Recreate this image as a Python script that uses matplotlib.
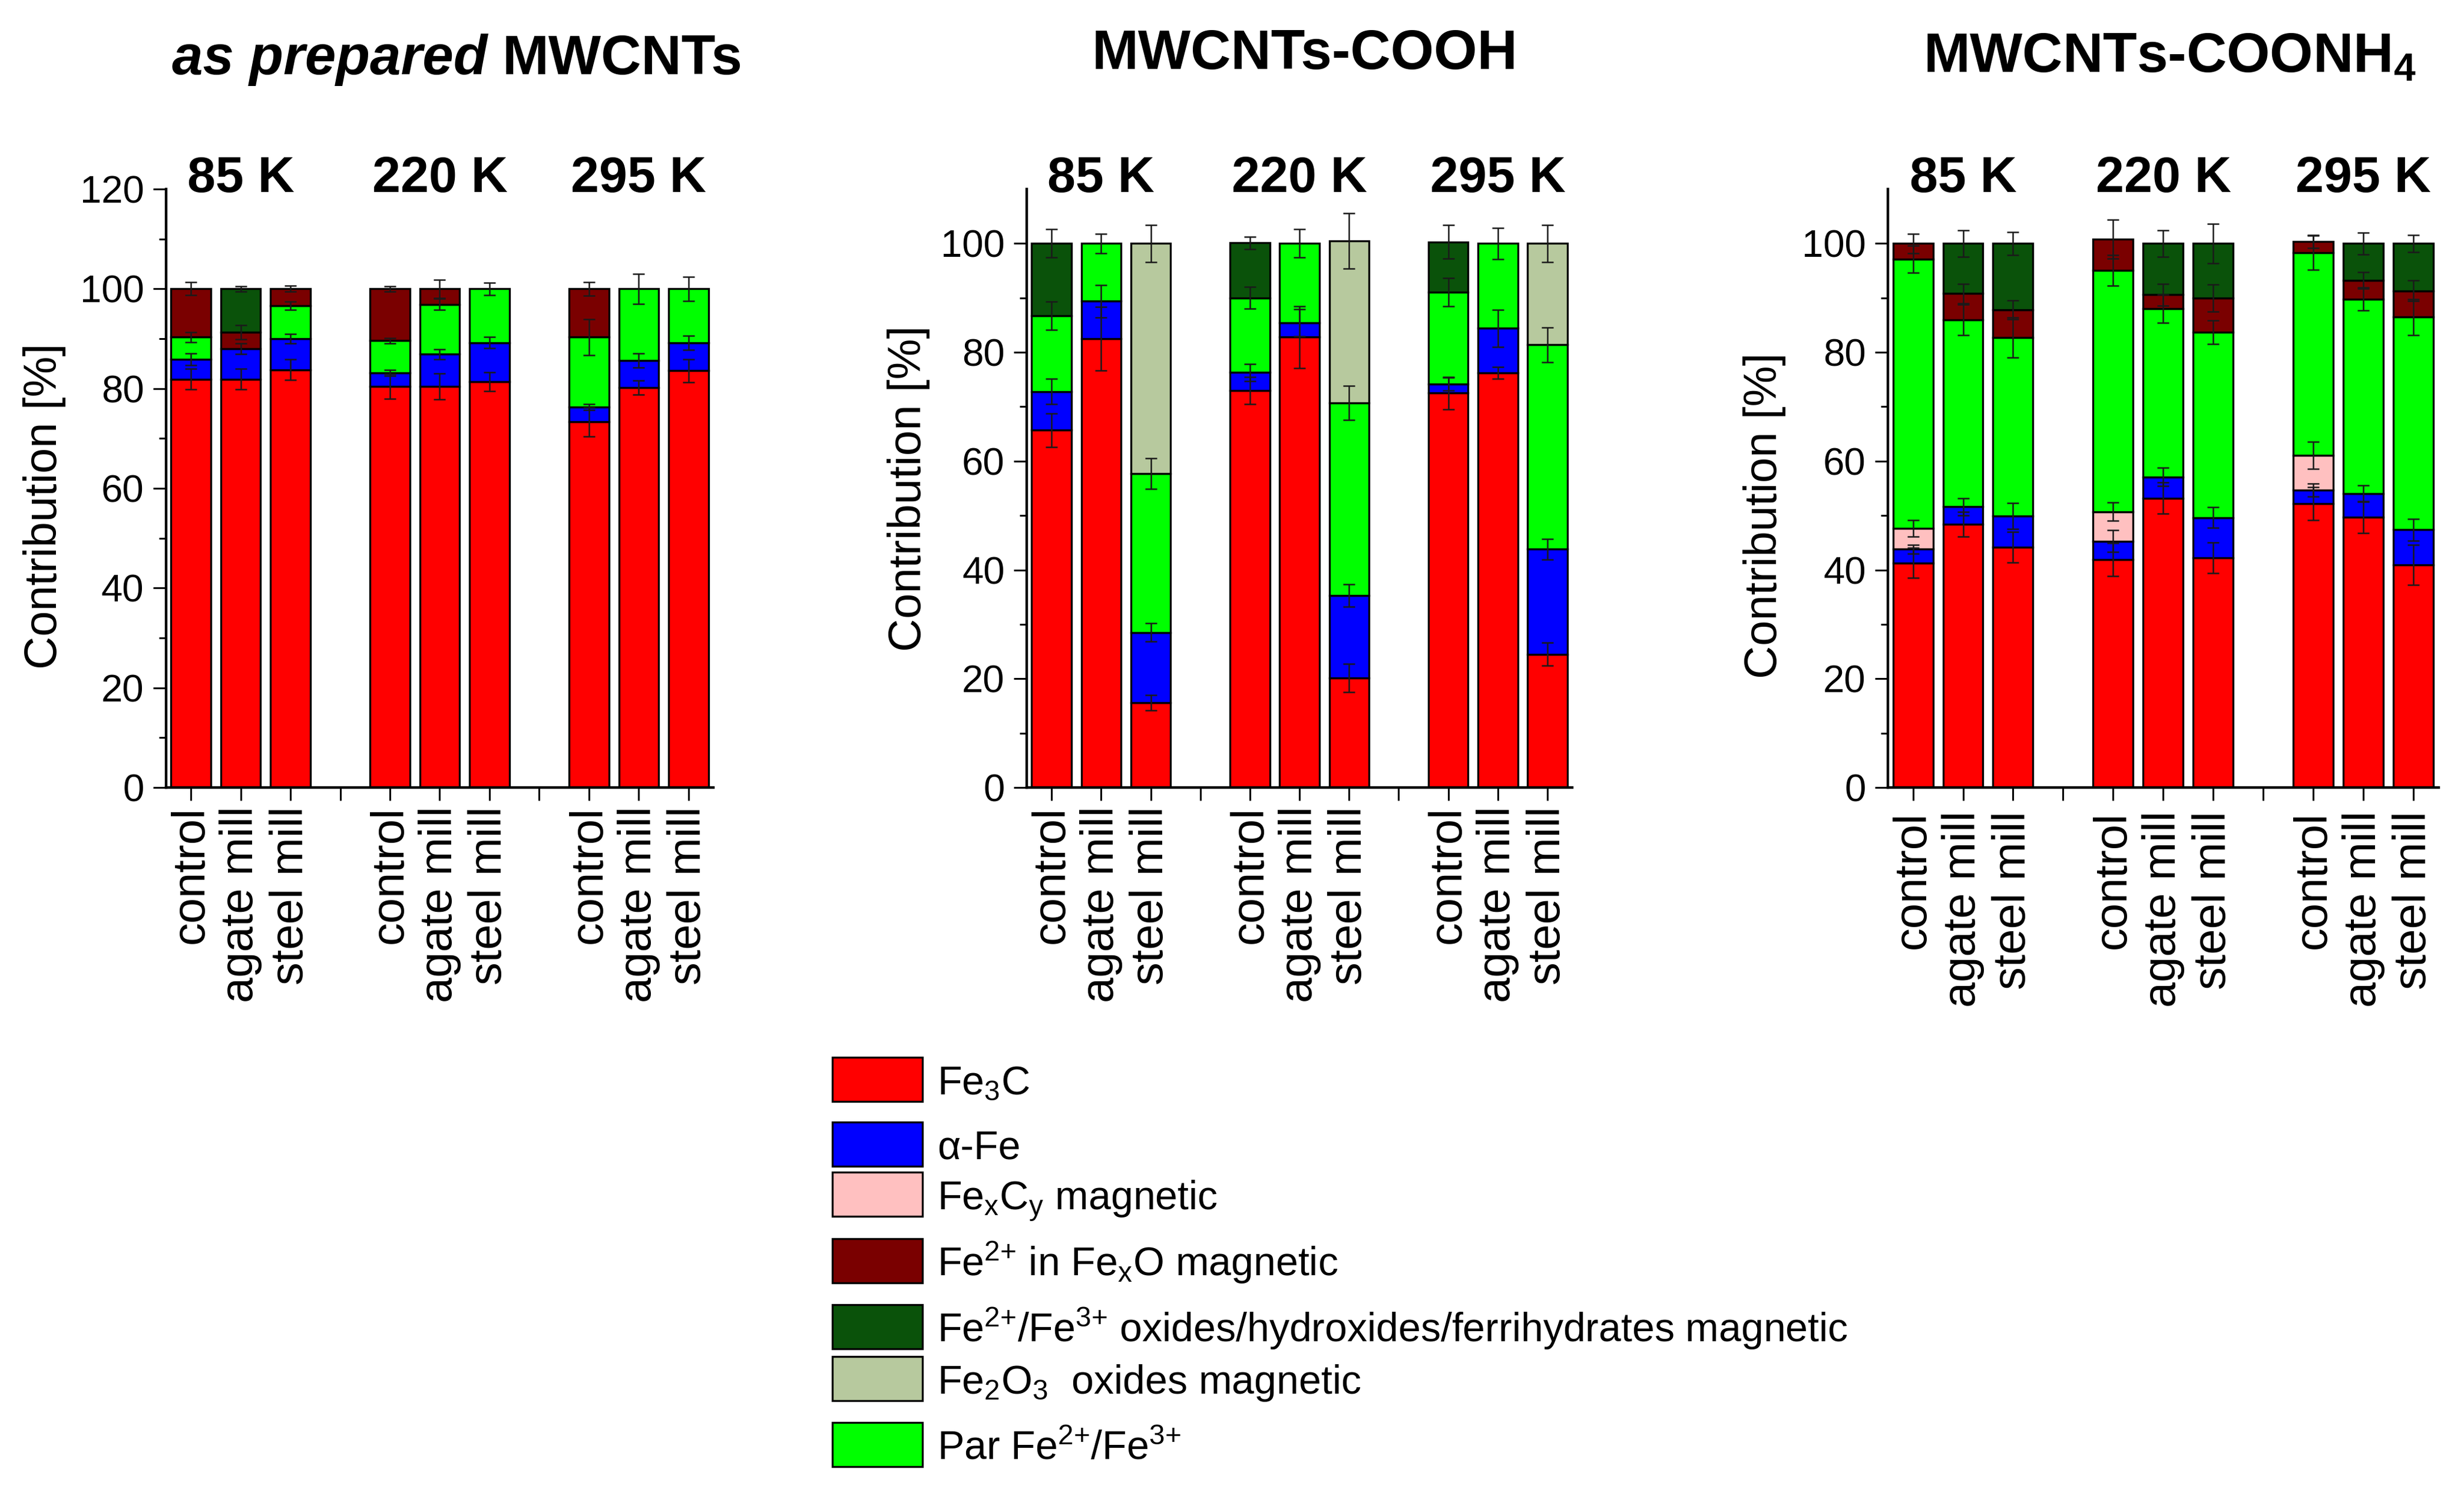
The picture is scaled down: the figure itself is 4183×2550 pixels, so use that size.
import numpy as np
import matplotlib.pyplot as plt
from matplotlib.patches import Rectangle

plt.rcParams['font.family'] = ['Liberation Sans', 'DejaVu Sans']
plt.rcParams['mathtext.fontset'] = 'custom'
plt.rcParams['mathtext.rm'] = 'Liberation Sans'
plt.rcParams['mathtext.it'] = 'Liberation Sans:italic'
plt.rcParams['mathtext.bf'] = 'Liberation Sans:bold'

samples = ['control', 'agate mill', 'steel mill']
temps = ['85 K', '220 K', '295 K']
pos = np.array([1, 2, 3, 5, 6, 7, 9, 10, 11])
zero = [0] * 9

# stacking order, bottom -> top
labels = ['Fe$_3$C', 'α-Fe', r'Fe$_\mathrm{x}$C$_\mathrm{y}$ magnetic',
          'Par Fe$^{2{+}}$/Fe$^{3{+}}$',
          r'Fe$^{2{+}}$ in Fe$_\mathrm{x}$O magnetic',
          'Fe$^{2{+}}$/Fe$^{3{+}}$ oxides/hydroxides/ferrihydrates magnetic',
          'Fe$_2$O$_3$  oxides magnetic']
colors = ['#ff0000', '#0000ff', '#ffc0c0', '#00ff00', '#7a0000', '#0a520a', '#b7c99e']
legend_order = [0, 1, 2, 4, 5, 6, 3]

# as prepared MWCNTs  (bars: 85K c/a/s, 220K c/a/s, 295K c/a/s)
prep_fe3c = [81.9, 81.9, 83.8, 80.4, 80.4, 81.4, 73.3, 80.2, 83.6]
prep_afe = [4.0, 6.1, 6.2, 2.8, 6.5, 7.8, 3.0, 5.4, 5.6]
prep_par = [4.4, 0, 6.6, 6.4, 10.0, 10.8, 14.0, 14.4, 10.8]
prep_fexo = [9.7, 3.3, 3.4, 10.4, 3.1, 0, 9.7, 0, 0]
prep_ox = [0, 8.7, 0, 0, 0, 0, 0, 0, 0]
prep_fe3c_err = [2.1, 2.1, 2.1, 2.5, 2.6, 1.9, 2.9, 1.4, 2.3]
prep_afe_err = [1.2, 1.1, 1.0, 0.6, 1.0, 1.1, 0.6, 1.4, 1.4]
prep_par_err = [1.0, 0, 0.8, 0.5, 1.1, 1.2, 3.6, 3.0, 2.4]
prep_fexo_err = [1.3, 1.4, 0.6, 0.5, 1.8, 0, 1.4, 0, 0]
prep_ox_err = [0, 0.5, 0, 0, 0, 0, 0, 0, 0]

# MWCNTs-COOH
cooh_fe3c = [65.7, 82.5, 15.6, 73.0, 82.8, 20.1, 72.5, 76.2, 24.5]
cooh_afe = [7.1, 6.9, 12.9, 3.3, 2.6, 15.2, 1.7, 8.2, 19.3]
cooh_par = [13.9, 10.6, 29.2, 13.7, 14.6, 35.4, 16.9, 15.6, 37.6]
cooh_ox = [13.3, 0, 0, 10.1, 0, 0, 9.2, 0, 0]
cooh_fe2o3 = [0, 0, 42.3, 0, 0, 29.8, 0, 0, 18.6]
cooh_fe3c_err = [3.1, 5.8, 1.4, 2.5, 5.7, 2.6, 3.0, 1.1, 2.1]
cooh_afe_err = [2.3, 3.0, 1.7, 1.6, 2.5, 2.1, 1.2, 3.4, 1.9]
cooh_par_err = [2.6, 1.8, 2.8, 2.0, 2.6, 3.1, 2.6, 2.9, 3.2]
cooh_ox_err = [2.6, 0, 0, 1.1, 0, 0, 3.1, 0, 0]
cooh_fe2o3_err = [0, 0, 3.4, 0, 0, 5.1, 0, 0, 3.4]

# MWCNTs-COONH4
nh4_fe3c = [41.3, 48.4, 44.2, 41.9, 53.2, 42.2, 52.2, 49.7, 40.9]
nh4_afe = [2.5, 3.2, 5.7, 3.4, 3.9, 7.4, 2.5, 4.3, 6.5]
nh4_fexcy = [3.8, 0, 0, 5.4, 0, 0, 6.4, 0, 0]
nh4_par = [49.5, 34.4, 32.8, 44.4, 30.9, 34.1, 37.2, 35.8, 39.1]
nh4_fexo = [2.9, 4.8, 5.1, 5.7, 2.6, 6.3, 2.1, 3.4, 4.8]
nh4_ox = [0, 9.2, 12.2, 0, 9.4, 10.0, 0, 6.8, 8.7]
nh4_fe3c_err = [2.8, 2.3, 2.8, 3.0, 2.9, 2.8, 3.0, 2.9, 3.7]
nh4_afe_err = [0.8, 1.6, 2.4, 2.0, 1.7, 1.9, 1.2, 1.5, 2.0]
nh4_fexcy_err = [1.5, 0, 0, 1.7, 0, 0, 2.5, 0, 0]
nh4_par_err = [2.5, 2.8, 3.7, 2.8, 2.6, 2.2, 3.1, 2.1, 3.3]
nh4_fexo_err = [1.8, 1.8, 1.7, 3.6, 2.0, 2.5, 1.2, 1.5, 1.9]
nh4_ox_err = [0, 2.4, 2.1, 0, 2.4, 3.6, 0, 2.0, 1.6]

panels = [
    dict(segs=[prep_fe3c, prep_afe, zero, prep_par, prep_fexo, prep_ox, zero],
         errs=[prep_fe3c_err, prep_afe_err, zero, prep_par_err, prep_fexo_err, prep_ox_err, zero],
         ymax=120, rect=[0.0674, 0.4757, 0.2221, 0.3984], ylab=(-0.183, 0.47), xpad=7),
    dict(segs=[cooh_fe3c, cooh_afe, zero, cooh_par, zero, cooh_ox, cooh_fe2o3],
         errs=[cooh_fe3c_err, cooh_afe_err, zero, cooh_par_err, zero, cooh_ox_err, cooh_fe2o3_err],
         ymax=110, rect=[0.4167, 0.4757, 0.2214, 0.3984], ylab=(-0.177, 0.50), xpad=7),
    dict(segs=[nh4_fe3c, nh4_afe, nh4_fexcy, nh4_par, nh4_fexo, nh4_ox, zero],
         errs=[nh4_fe3c_err, nh4_afe_err, nh4_fexcy_err, nh4_par_err, nh4_fexo_err, nh4_ox_err, zero],
         ymax=110, rect=[0.7662, 0.4757, 0.2235, 0.3984], ylab=(-0.185, 0.454), xpad=13),
]

fig = plt.figure(figsize=(41.83, 25.5), dpi=100)

for p in panels:
    ax = fig.add_axes(p['rect'])
    bottom = np.zeros(9)
    tops = []
    for seg, err, col in zip(p['segs'], p['errs'], colors):
        seg = np.array(seg, dtype=float)
        m = seg > 0
        if m.any():
            ax.bar(pos[m], seg[m], 0.8, bottom=bottom[m], color=col,
                   edgecolor='black', linewidth=2.4, zorder=2)
        tops.append((bottom + seg, np.array(err, dtype=float), m))
        bottom = bottom + seg
    for top, err, m in tops:
        if m.any():
            ax.errorbar(pos[m], top[m], yerr=err[m], fmt='none', ecolor='#1a1a1a',
                        elinewidth=1.8, capsize=7.5, capthick=1.8, zorder=3)

    ax.set_xlim(0.5, 11.5)
    ax.set_ylim(0, p['ymax'])
    ax.set_yticks(np.arange(0, p['ymax'] + 1, 20))
    ax.set_yticks(np.arange(10, p['ymax'], 20), minor=True)
    ax.set_xticks(range(1, 12))
    ax.set_xticklabels(samples + [''] + samples + [''] + samples, rotation=90,
                       fontsize=56, va='top')
    ax.tick_params(axis='x', length=16, width=2.2, pad=p['xpad'])
    ax.tick_params(axis='y', which='major', length=16, width=2.2, pad=11, labelsize=47)
    ax.tick_params(axis='y', which='minor', length=9, width=2.2)
    for s in ['top', 'right']:
        ax.spines[s].set_visible(False)
    for s in ['left', 'bottom']:
        ax.spines[s].set_linewidth(3.2)
    ax.set_ylabel('Contribution [%]', fontsize=56)
    ax.yaxis.set_label_coords(*p['ylab'])
    for i, t in enumerate(temps):
        ax.text(pos[3 * i + 1], 0.995, t, transform=ax.get_xaxis_transform(),
                ha='center', va='baseline', fontsize=62, fontweight='bold')

# panel titles
W, H = 4183, 2550
fig.text(828 / W, 1 - 126 / H, 'as prepared', ha='right', va='baseline',
         fontsize=68, fontweight='bold', fontstyle='italic')
fig.text(853 / W, 1 - 126 / H, 'MWCNTs', ha='left', va='baseline',
         fontsize=68, fontweight='bold')
fig.text(2215 / W, 1 - 117 / H, 'MWCNTs-COOH', ha='center', va='baseline',
         fontsize=68, fontweight='bold')
fig.text(3684 / W, 1 - 122 / H, r'MWCNTs-COONH$_\mathbf{4}$', ha='center', va='baseline',
         fontsize=68, fontweight='bold')

# legend
leg_y = [1833, 1943, 2028, 2141, 2253, 2341, 2453]
for yc, k in zip(leg_y, legend_order):
    fig.add_artist(Rectangle((1413 / W, 1 - (yc + 37) / H), 153 / W, 75 / H,
                             transform=fig.transFigure, facecolor=colors[k],
                             edgecolor='black', linewidth=2.4))
    fig.text(1591 / W, 1 - (yc + 25) / H, labels[k], ha='left', va='baseline', fontsize=49)

fig.savefig('out.png', dpi=100)
